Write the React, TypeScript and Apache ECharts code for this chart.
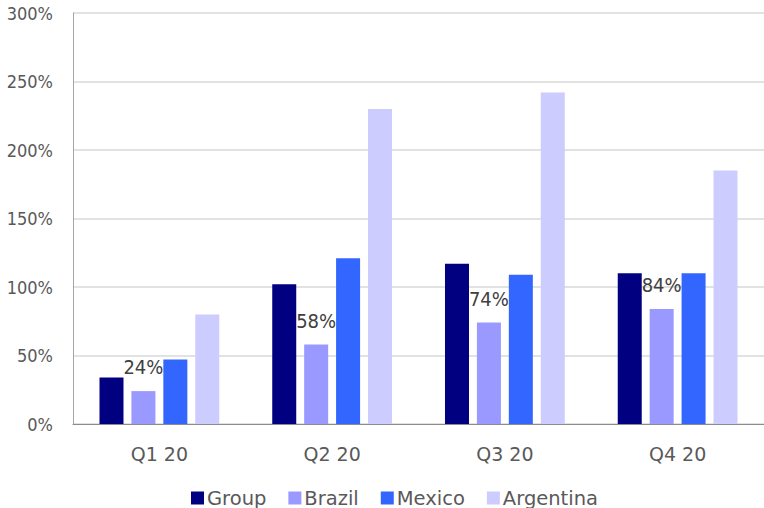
import React, { useEffect, useRef } from "react";
import * as echarts from "echarts";

// Quarterly ratios per region, in percent
const categories = ["Q1 20", "Q2 20", "Q3 20", "Q4 20"];
const groupValues = [34, 102, 117, 110];
const brazilValues = [24, 58, 74, 84];
const mexicoValues = [47, 121, 109, 110];
const argentinaValues = [80, 230, 242, 185];

const seriesNames = ["Group", "Brazil", "Mexico", "Argentina"];
const seriesColors = ["#000080", "#9999FF", "#3366FF", "#CCCCFF"];

const yTicks = { min: 0, max: 300, interval: 50 };

const textColor = "#595959";
const mainFont = "'DejaVu Sans', sans-serif";
const narrowFont = "'DejaVu Sans Condensed', 'DejaVu Sans', sans-serif";

export default function App() {
  const ref = useRef<HTMLDivElement>(null);

  useEffect(() => {
    if (!ref.current) return;
    const chart = echarts.init(ref.current, undefined, { renderer: "svg" });

    const values = [groupValues, brazilValues, mexicoValues, argentinaValues];

    chart.setOption({
      animation: false,
      backgroundColor: "#ffffff",
      grid: { left: 73, right: 0, top: 13, bottom: 84, containLabel: false },
      legend: {
        data: seriesNames,
        left: 186,
        top: 482,
        padding: 5,
        icon: "rect",
        itemWidth: 13,
        itemHeight: 13,
        itemGap: 22,
        textStyle: {
          color: textColor,
          fontFamily: mainFont,
          fontSize: 19.5,
          lineHeight: 22,
          padding: [0, 0, 0, -2],
        },
      },
      xAxis: {
        type: "category",
        data: categories,
        axisLine: { show: true, lineStyle: { color: "#8C8C8C", width: 1 } },
        axisTick: { show: false },
        axisLabel: {
          color: textColor,
          fontFamily: mainFont,
          fontSize: 19,
          lineHeight: 20,
          margin: 20,
        },
        splitLine: { show: false },
      },
      yAxis: {
        type: "value",
        min: yTicks.min,
        max: yTicks.max,
        interval: yTicks.interval,
        axisLine: { show: true, lineStyle: { color: "#A6A6A6", width: 1 } },
        axisTick: { show: false },
        axisLabel: {
          formatter: "{value}%",
          color: textColor,
          fontFamily: narrowFont,
          fontSize: 18,
          margin: 20,
        },
        splitLine: { show: true, lineStyle: { color: "#D9D9D9", width: 1.5 } },
      },
      series: seriesNames.map((name, i) => ({
        name,
        type: "bar",
        data: values[i],
        barWidth: 24,
        barGap: "33%",
        itemStyle: { color: seriesColors[i] },
        label:
          name === "Brazil"
            ? {
                show: true,
                position: "top",
                distance: 14,
                formatter: "{c}%",
                color: "#404040",
                fontFamily: narrowFont,
                fontSize: 20,
              }
            : { show: false },
      })),
    });

    return () => chart.dispose();
  }, []);

  return (
    <div
      ref={ref}
      style={{ position: "fixed", left: 0, top: 0, width: 764, height: 508 }}
    />
  );
}
